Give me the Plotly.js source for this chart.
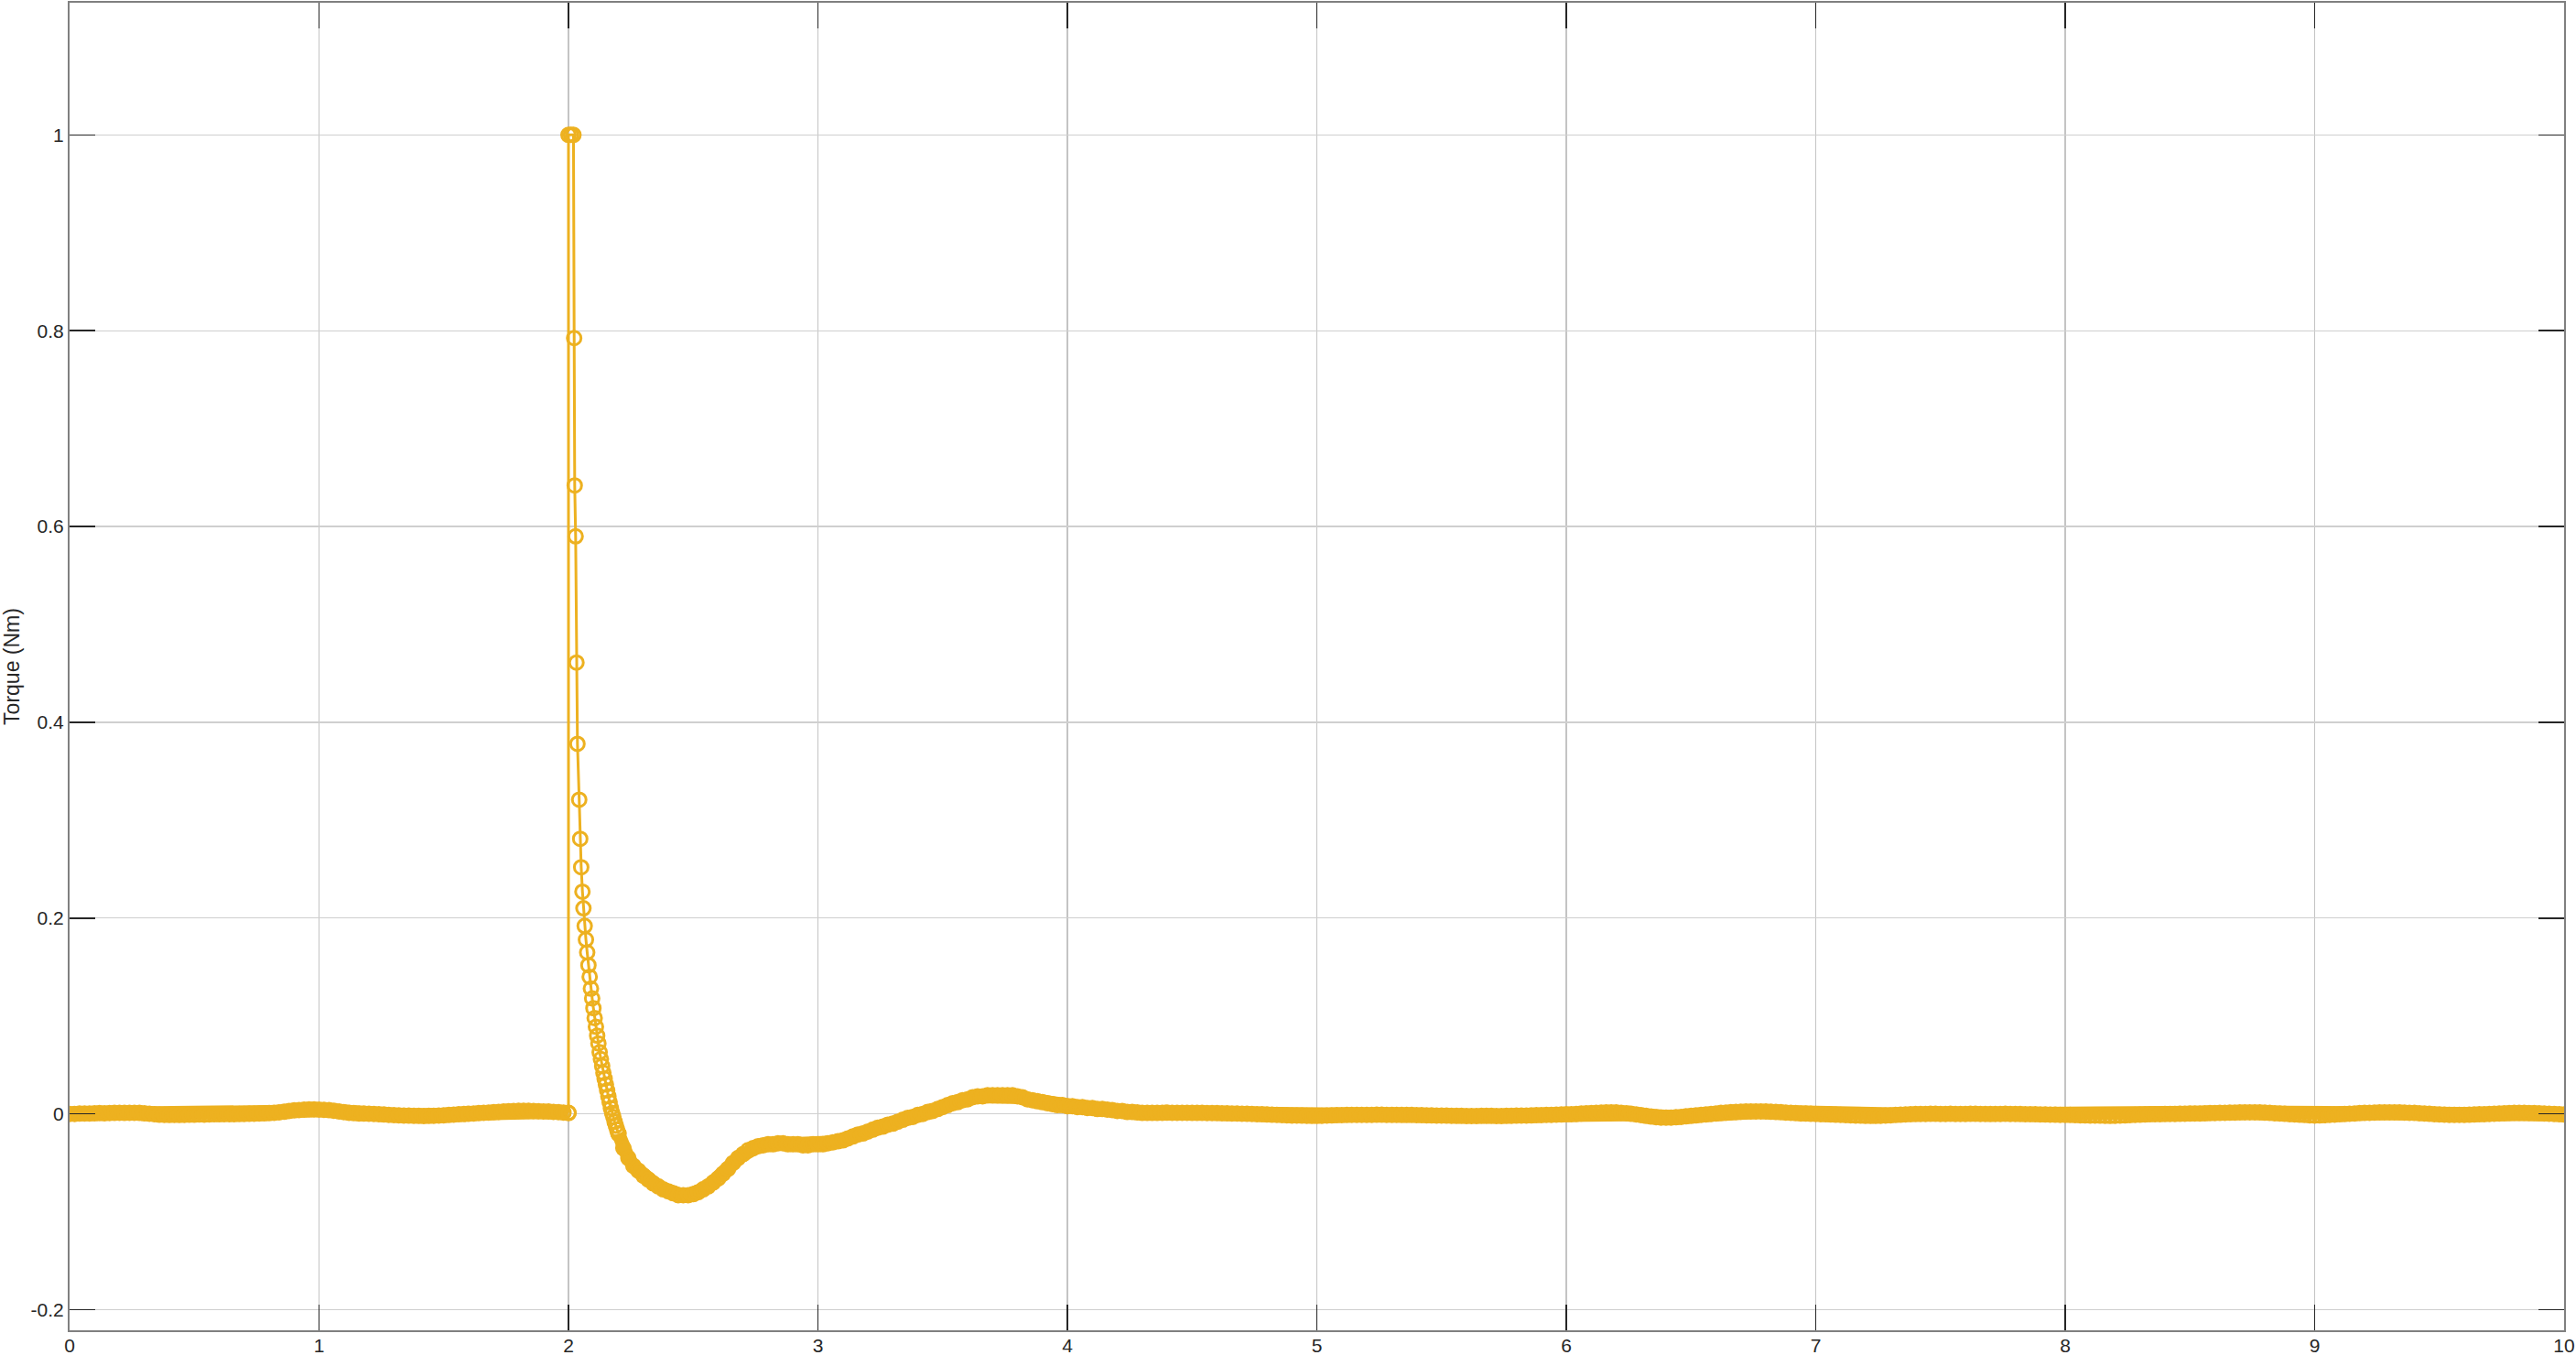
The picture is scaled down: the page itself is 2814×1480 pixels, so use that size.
<!DOCTYPE html>
<html>
<head>
<meta charset="utf-8">
<script src="https://cdn.plot.ly/plotly-3.0.1.min.js"></script>
<style>
  html, body { margin: 0; padding: 0; background: #fff; }
  #chart { width: 2814px; height: 1480px; }
</style>
</head>
<body>
<div id="chart"></div>
<script>
// torque before the step, sampled every 0.02 s from t = 0 to t = 2
const preStart = 0
const preStep = 0.02
const preTorque = [
  0.0000, 0.0000, 0.0003, 0.0005, 0.0004, 0.0006, 0.0008, 0.0007, 0.0009, 0.0010,
  0.0011, 0.0010, 0.0012, 0.0011, 0.0010, 0.0006, 0.0002, -0.0003, -0.0008, -0.0010,
  -0.0011, -0.0010, -0.0011, -0.0009, -0.0008, -0.0008, -0.0006, -0.0007, -0.0005, -0.0004,
  -0.0004, -0.0003, -0.0002, -0.0002, -0.0001, 0.0000, 0.0001, 0.0002, 0.0004, 0.0006,
  0.0008, 0.0011, 0.0016, 0.0022, 0.0030, 0.0036, 0.0040, 0.0043, 0.0045, 0.0045,
  0.0044, 0.0042, 0.0038, 0.0032, 0.0025, 0.0018, 0.0012, 0.0008, 0.0005, 0.0003,
  0.0002, 0.0000, -0.0003, -0.0006, -0.0009, -0.0012, -0.0014, -0.0016, -0.0018, -0.0019,
  -0.0020, -0.0021, -0.0020, -0.0019, -0.0017, -0.0014, -0.0011, -0.0007, -0.0004, -0.0001,
  0.0002, 0.0005, 0.0008, 0.0011, 0.0014, 0.0017, 0.0021, 0.0024, 0.0027, 0.0030,
  0.0032, 0.0032, 0.0031, 0.0030, 0.0028, 0.0026, 0.0024, 0.0021, 0.0018, 0.0014,
  0.0010
]

// the step itself, where the solver takes uneven, short steps
const spikeTime = [
  2.000, 2.000, 2.010, 2.020, 2.0228, 2.025, 2.0287, 2.032, 2.036, 2.043,
  2.047, 2.051, 2.056, 2.060, 2.065, 2.070, 2.075, 2.080, 2.085, 2.090,
  2.095, 2.100, 2.105, 2.110, 2.115, 2.120, 2.125, 2.130, 2.135, 2.140,
  2.145, 2.150, 2.155, 2.160, 2.165, 2.170, 2.175, 2.180, 2.185, 2.190,
  2.195, 2.200
]
const spikeTorque = [
  0.0010, 1.000, 1.000, 1.000, 0.7925, 0.642, 0.590, 0.461, 0.378, 0.321,
  0.281, 0.252, 0.227, 0.210, 0.192, 0.178, 0.165, 0.152, 0.140, 0.128,
  0.118, 0.108, 0.098, 0.089, 0.080, 0.072, 0.063, 0.056, 0.049, 0.042,
  0.036, 0.030, 0.024, 0.018, 0.012, 0.006, 0.001, -0.003, -0.008, -0.012,
  -0.016, -0.020
]

// torque after the step, sampled every 0.02 s from t = 2.2 to t = 10
const postStart = 2.2
const postStep = 0.02
const postTorque = [
  -0.020, -0.035, -0.045, -0.053, -0.058, -0.063, -0.067, -0.071, -0.074, -0.077,
  -0.079, -0.081, -0.083, -0.083, -0.083, -0.082, -0.080, -0.077, -0.074, -0.070,
  -0.066, -0.061, -0.056, -0.050, -0.045, -0.041, -0.037, -0.035, -0.033, -0.032,
  -0.031, -0.031, -0.030, -0.030, -0.031, -0.031, -0.031, -0.032, -0.032, -0.031,
  -0.031, -0.031, -0.030, -0.029, -0.028, -0.027, -0.025, -0.023, -0.021, -0.020,
  -0.018, -0.016, -0.014, -0.013, -0.011, -0.010, -0.008, -0.006, -0.004, -0.003,
  -0.001, 0.000, 0.002, 0.003, 0.005, 0.007, 0.009, 0.011, 0.012, 0.014,
  0.015, 0.017, 0.018, 0.018, 0.019, 0.019, 0.019, 0.019, 0.019, 0.019,
  0.018, 0.017, 0.015, 0.014, 0.013, 0.012, 0.011, 0.010, 0.009, 0.009,
  0.008, 0.008, 0.007, 0.007, 0.006, 0.006, 0.005, 0.005, 0.0044, 0.004,
  0.003, 0.003, 0.002, 0.002, 0.0015, 0.001, 0.001, 0.001, 0.001, 0.0012,
  0.0013, 0.0012, 0.0012, 0.0011, 0.0011, 0.0010, 0.0010, 0.0010, 0.0009, 0.0009,
  0.0008, 0.0007, 0.0006, 0.0005, 0.0004, 0.0002, 0.0001, 0.0000, -0.0002, -0.0004,
  -0.0006, -0.0008, -0.0010, -0.0012, -0.0014, -0.0016, -0.0017, -0.0018, -0.0019, -0.0020,
  -0.0020, -0.0019, -0.0017, -0.0015, -0.0013, -0.0012, -0.0011, -0.0010, -0.0010, -0.0010,
  -0.0010, -0.0009, -0.0008, -0.0008, -0.0009, -0.0010, -0.0010, -0.0011, -0.0011, -0.0011,
  -0.0012, -0.0013, -0.0014, -0.0015, -0.0016, -0.0017, -0.0018, -0.0019, -0.0020, -0.0020,
  -0.0021, -0.0021, -0.0021, -0.0020, -0.0020, -0.0020, -0.0021, -0.0021, -0.0020, -0.0019,
  -0.0018, -0.0017, -0.0016, -0.0015, -0.0013, -0.0012, -0.0010, -0.0009, -0.0007, -0.0006,
  -0.0004, -0.0002, 0.0000, 0.0003, 0.0006, 0.0009, 0.0012, 0.0014, 0.0016, 0.0016,
  0.0015, 0.0012, 0.0007, 0.0001, -0.0005, -0.0012, -0.0020, -0.0027, -0.0033, -0.0037,
  -0.0038, -0.0037, -0.0034, -0.0030, -0.0025, -0.0020, -0.0015, -0.0010, -0.0005, 0.0000,
  0.0005, 0.0010, 0.0014, 0.0018, 0.0021, 0.0023, 0.0025, 0.0026, 0.0026, 0.0025,
  0.0024, 0.0022, 0.0020, 0.0017, 0.0014, 0.0011, 0.0008, 0.0005, 0.0003, 0.0001,
  0.0000, -0.0002, -0.0004, -0.0006, -0.0008, -0.0010, -0.0012, -0.0014, -0.0016, -0.0018,
  -0.0019, -0.0020, -0.0020, -0.0019, -0.0017, -0.0014, -0.0011, -0.0008, -0.0005, -0.0003,
  -0.0001, 0.0000, 0.0000, 0.0001, 0.0001, 0.0000, 0.0000, 0.0001, 0.0000, 0.0000,
  0.0000, 0.0001, 0.0001, 0.0000, 0.0000, -0.0001, 0.0000, 0.0000, 0.0001, 0.0000,
  0.0000, -0.0001, -0.0002, -0.0003, -0.0004, -0.0005, -0.0006, -0.0007, -0.0008, -0.0009,
  -0.0010, -0.0011, -0.0012, -0.0014, -0.0015, -0.0016, -0.0017, -0.0018, -0.0019, -0.0020,
  -0.0019, -0.0017, -0.0015, -0.0012, -0.0010, -0.0008, -0.0006, -0.0004, -0.0003, -0.0002,
  -0.0001, 0.0000, 0.0000, 0.0001, 0.0002, 0.0003, 0.0004, 0.0005, 0.0006, 0.0008,
  0.0009, 0.0010, 0.0012, 0.0013, 0.0014, 0.0015, 0.0016, 0.0016, 0.0016, 0.0015,
  0.0013, 0.0010, 0.0007, 0.0004, 0.0001, -0.0002, -0.0005, -0.0008, -0.0011, -0.0014,
  -0.0016, -0.0015, -0.0013, -0.0010, -0.0007, -0.0004, -0.0001, 0.0002, 0.0005, 0.0008,
  0.0010, 0.0012, 0.0014, 0.0015, 0.0016, 0.0016, 0.0016, 0.0015, 0.0014, 0.0012,
  0.0010, 0.0007, 0.0004, 0.0001, -0.0002, -0.0005, -0.0007, -0.0009, -0.0010, -0.0010,
  -0.0009, -0.0008, -0.0006, -0.0004, -0.0002, 0.0000, 0.0002, 0.0004, 0.0006, 0.0008,
  0.0010, 0.0010, 0.0010, 0.0009, 0.0008, 0.0006, 0.0004, 0.0002, 0.0000, -0.0003,
  -0.0006
]

const xTickVals = [0, 1, 2, 3, 4, 5, 6, 7, 8, 9, 10]
const xTickText = ['0', '1', '2', '3', '4', '5', '6', '7', '8', '9', '10']
const yTickVals = [-0.2, 0, 0.2, 0.4, 0.6, 0.8, 1]
const yTickText = ['-0.2', '0', '0.2', '0.4', '0.6', '0.8', '1']

const lineColor = '#EDB120'

// where the samples sit close together the circles merge into one thick band,
// so those traces get a wide line underneath the markers
function torqueTrace(extra, lineWidth) {
  return Object.assign({
    type: 'scatter',
    mode: 'lines+markers',
    showlegend: false,
    line: { color: lineColor, width: lineWidth },
    marker: { symbol: 'circle-open', size: 15, color: lineColor, line: { width: 3, color: lineColor } }
  }, extra)
}

const traces = [
  torqueTrace({ x0: preStart, dx: preStep, y: preTorque }, 15),
  torqueTrace({ x: spikeTime, y: spikeTorque }, 3),
  torqueTrace({ x0: postStart, dx: postStep, y: postTorque }, 15)
]

const tickFont = { family: 'Liberation Sans, Arial, sans-serif', size: 21, color: '#262626' }
const titleFont = { family: 'Liberation Sans, Arial, sans-serif', size: 23, color: '#262626' }

const layout = {
  width: 2814,
  height: 1480,
  margin: { l: 76, r: 13, t: 3, b: 27 },
  paper_bgcolor: '#ffffff',
  plot_bgcolor: '#ffffff',
  xaxis: {
    range: [0, 10],
    tickmode: 'array',
    tickvals: xTickVals,
    ticktext: xTickText,
    ticks: 'inside',
    ticklen: 28,
    tickwidth: 1.5,
    tickcolor: '#262626',
    ticklabelstandoff: -3,
    showline: true,
    linecolor: '#808080',
    linewidth: 2,
    mirror: 'ticks',
    showgrid: true,
    gridcolor: '#c4c4c4',
    gridwidth: 1.2,
    zeroline: false,
    tickfont: tickFont
  },
  yaxis: {
    range: [-0.221, 1.135],
    tickmode: 'array',
    tickvals: yTickVals,
    ticktext: yTickText,
    ticks: 'inside',
    ticklen: 28,
    tickwidth: 1.5,
    tickcolor: '#262626',
    showline: true,
    linecolor: '#808080',
    linewidth: 2,
    mirror: 'ticks',
    showgrid: true,
    gridcolor: '#cfcfcf',
    gridwidth: 1.2,
    zeroline: false,
    tickfont: tickFont,
    title: { text: 'Torque (Nm)', font: titleFont, standoff: 6 }
  }
}

Plotly.newPlot('chart', traces, layout, { displayModeBar: false, staticPlot: true })
</script>
</body>
</html>
